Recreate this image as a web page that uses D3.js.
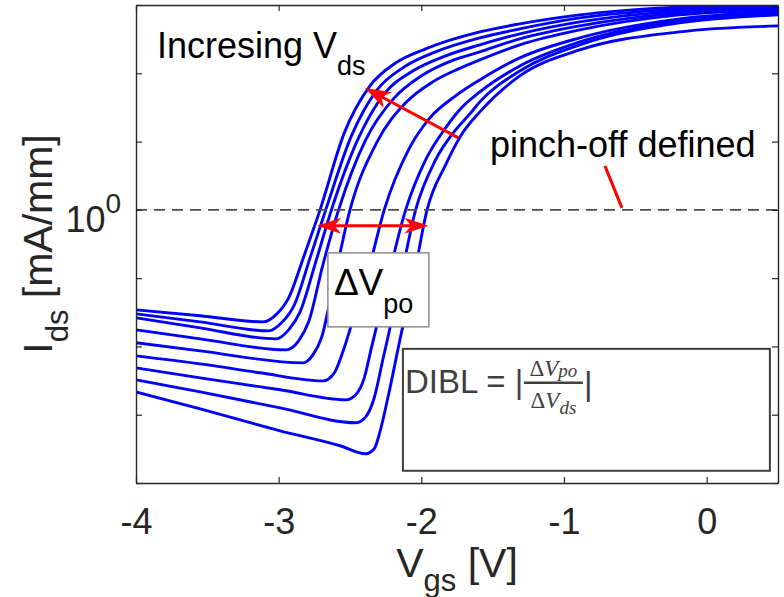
<!DOCTYPE html>
<html>
<head>
<meta charset="utf-8">
<script src="https://cdn.jsdelivr.net/npm/d3@7"></script>
<style>
  html, body { margin: 0; padding: 0; background: #fff; }
  svg { display: block; font-family: "Liberation Sans", Arial, Helvetica, sans-serif; }
</style>
</head>
<body>
<svg id="chart" width="784" height="597"></svg>
<script>
// Transfer curves Ids(Vgs), one per drain bias (leftmost = highest Vds)
const vgsTicks = [-4, -3, -2, -1, 0];
const idsTicks = [1e-4, 1e-3, 1e-2, 1e-1, 1, 1e1, 1e2, 1e3];

const curve1 = [[-4.00,0.0343],[-3.55,0.0281],[-3.11,0.0229],[-3.02,0.0290],[-2.93,0.0515],[-2.82,0.219],[-2.71,1.00],[-2.54,13.4],[-2.36,65.4],[-2.18,142],[-1.97,228],[-1.59,404],[-1.31,529],[-0.89,716],[-0.19,938],[0.50,1038]];
const curve2 = [[-4.00,0.0300],[-3.55,0.0229],[-3.07,0.0169],[-2.98,0.0222],[-2.89,0.0407],[-2.78,0.198],[-2.67,1.00],[-2.49,12.1],[-2.31,57.1],[-2.12,124],[-1.90,206],[-1.59,330],[-1.31,447],[-0.89,647],[-0.19,877],[0.50,987]];
const curve3 = [[-4.00,0.0262],[-3.55,0.0187],[-3.02,0.0129],[-2.93,0.0175],[-2.85,0.0321],[-2.74,0.173],[-2.63,1.00],[-2.44,11.3],[-2.26,49.9],[-2.06,108],[-1.83,180],[-1.59,261],[-1.31,378],[-0.89,566],[-0.19,820],[0.50,938]];
const curve4 = [[-4.00,0.0175],[-3.55,0.0129],[-2.95,0.00891],[-2.86,0.0121],[-2.79,0.0229],[-2.69,0.157],[-2.58,1.00],[-2.39,10.6],[-2.19,43.6],[-2.00,91.6],[-1.79,152],[-1.59,206],[-1.31,319],[-0.89,494],[-0.19,766],[0.50,892]];
const curve5 = [[-4.00,0.0113],[-3.55,0.00862],[-2.83,0.00575],[-2.76,0.00753],[-2.70,0.0134],[-2.61,0.0944],[-2.50,1.00],[-2.31,9.90],[-2.11,36.9],[-1.92,74.8],[-1.74,116],[-1.59,157],[-1.31,261],[-0.89,432],[-0.19,716],[0.50,848]];
const curve6 = [[-4.00,0.00728],[-3.55,0.00556],[-3.13,0.00411],[-2.69,0.00313],[-2.61,0.00411],[-2.55,0.00833],[-2.49,0.0207],[-2.37,0.132],[-2.26,1.00],[-2.09,7.56],[-1.94,22.2],[-1.76,46.7],[-1.59,80.0],[-1.31,168],[-0.89,330],[-0.19,626],[0.50,792]];
const curve7 = [[-4.00,0.00486],[-3.55,0.00347],[-2.99,0.00232],[-2.53,0.00165],[-2.46,0.00196],[-2.40,0.00347],[-2.35,0.00954],[-2.26,0.0569],[-2.11,1.00],[-1.97,5.40],[-1.83,15.9],[-1.72,31.1],[-1.59,53.4],[-1.31,128],[-0.89,288],[-0.19,585],[0.50,754]];
const curve8 = [[-4.00,0.00324],[-3.55,0.00216],[-2.99,0.00126],[-2.46,0.000761],[-2.39,0.000931],[-2.33,0.00177],[-2.27,0.00637],[-2.16,0.0674],[-2.04,1.00],[-1.90,5.40],[-1.76,14.8],[-1.66,25.4],[-1.59,38.1],[-1.31,108],[-0.89,261],[-0.19,547],[0.50,716]];
const curve9 = [[-4.00,0.00216],[-3.55,0.00122],[-2.99,0.000581],[-2.57,0.000351],[-2.39,0.000268],[-2.33,0.000317],[-2.29,0.000562],[-2.23,0.00196],[-2.15,0.0125],[-2.05,0.112],[-1.96,1.00],[-1.83,4.56],[-1.72,12.5],[-1.59,27.2],[-1.31,91.6],[-0.89,220],[-0.19,404],[0.50,494]];
const curves = [curve1, curve2, curve3, curve4, curve5, curve6, curve7, curve8, curve9];

// Pinch-off criterion current level (mA/mm)
const pinchOffLevel = 1;

// Annotation anchors in data units [Vgs, Ids]
const dvArrow = [[-2.73, 0.583], [-1.95, 0.583]];
const vdsArrow = { tail: [-1.74, 11.3], tip: [-2.395, 61.1] };
const pinchPointer = [[-0.713, 4.41], [-0.594, 1.07]];
const incLabelPos = [-3.853, 168];
const pinchLabelPos = [-1.519, 5.97];
const dvBox = { x0: -2.655, x1: -1.947, yTop: 0.2346, yBot: 0.01936 };
const diblBox = { x0: -2.129, x1: 0.443, yTop: 0.00922, yBot: 0.000151 };

const W = 784, H = 597;
const plot = { left: 136, right: 778, top: 5, bottom: 483 };

const svg = d3.select("#chart");
svg.append("rect").attr("width", W).attr("height", H).attr("fill", "#fff");

const x = d3.scaleLinear().domain([-4, 0.5]).range([plot.left, plot.right]);
const y = d3.scaleLog().domain([1e-4, 1e3]).range([plot.bottom, plot.top]);

svg.append("defs").append("clipPath").attr("id", "plotClip")
  .append("rect")
  .attr("x", plot.left).attr("y", plot.top)
  .attr("width", plot.right - plot.left).attr("height", plot.bottom - plot.top);

const body = svg.append("g").attr("clip-path", "url(#plotClip)");

// Transfer curves
const line = d3.line()
  .x(d => x(d[0]))
  .y(d => y(d[1]))
  .curve(d3.curveMonotoneX);

body.selectAll("path.ids")
  .data(curves)
  .join("path")
  .attr("class", "ids")
  .attr("d", line)
  .attr("fill", "none")
  .attr("stroke", "#0000ff")
  .attr("stroke-width", 2.9)
  .attr("stroke-linejoin", "round");

// Pinch-off level
body.append("line")
  .attr("x1", x(-4)).attr("x2", x(0.5))
  .attr("y1", y(pinchOffLevel)).attr("y2", y(pinchOffLevel))
  .attr("stroke", "#4d4d4d")
  .attr("stroke-width", 1.6)
  .attr("stroke-dasharray", "11,7");

// Arrow helpers
const RED = "#ff0000";
function arrowHead(g, tipPx, fromPx, len, halfW) {
  const ang = Math.atan2(tipPx[1] - fromPx[1], tipPx[0] - fromPx[0]);
  const c = Math.cos(ang), s = Math.sin(ang);
  const pt = (u, v) => [tipPx[0] + u * c - v * s, tipPx[1] + u * s + v * c];
  const pts = [pt(0, 0), pt(-len, -halfW), pt(-len * 0.72, 0), pt(-len, halfW)];
  g.append("path")
    .attr("d", "M" + pts.map(p => p.join(",")).join("L") + "Z")
    .attr("fill", RED);
}
function toPx(p) { return [x(p[0]), y(p[1])]; }

const ann = svg.append("g");

// Horizontal double arrow (ΔVpo)
{
  const a = toPx(dvArrow[0]), b = toPx(dvArrow[1]);
  ann.append("line")
    .attr("x1", a[0] + 12).attr("y1", a[1]).attr("x2", b[0] - 12).attr("y2", b[1])
    .attr("stroke", RED).attr("stroke-width", 3);
  arrowHead(ann, a, b, 24, 8);
  arrowHead(ann, b, a, 24, 8);
}

// Diagonal arrow (increasing Vds)
{
  const t = toPx(vdsArrow.tail), h = toPx(vdsArrow.tip);
  const dx = h[0] - t[0], dy = h[1] - t[1], L = Math.hypot(dx, dy);
  ann.append("line")
    .attr("x1", t[0]).attr("y1", t[1])
    .attr("x2", h[0] - dx / L * 14).attr("y2", h[1] - dy / L * 14)
    .attr("stroke", RED).attr("stroke-width", 3);
  arrowHead(ann, h, t, 26, 9);
}

// Pointer to the pinch-off line
{
  const a = toPx(pinchPointer[0]), b = toPx(pinchPointer[1]);
  ann.append("line")
    .attr("x1", a[0]).attr("y1", a[1]).attr("x2", b[0]).attr("y2", b[1])
    .attr("stroke", RED).attr("stroke-width", 3);
}

// Text labels
{
  const p = toPx(incLabelPos);
  const t = ann.append("text").attr("x", p[0]).attr("y", p[1])
    .attr("font-size", 36).attr("fill", "#000");
  t.append("tspan").text("Incresing V");
  t.append("tspan").attr("font-size", 27).attr("dy", 17).text("ds");
}
{
  const p = toPx(pinchLabelPos);
  ann.append("text").attr("x", p[0]).attr("y", p[1])
    .attr("font-size", 36).attr("fill", "#000").text("pinch-off defined");
}

// ΔVpo box
{
  const x0 = x(dvBox.x0), x1 = x(dvBox.x1), y0 = y(dvBox.yTop), y1 = y(dvBox.yBot);
  ann.append("rect").attr("x", x0).attr("y", y0).attr("width", x1 - x0).attr("height", y1 - y0)
    .attr("fill", "#fff").attr("stroke", "#8c8c8c").attr("stroke-width", 1.5);
  const t = ann.append("text").attr("x", x0 + 6).attr("y", y0 + 42)
    .attr("font-size", 37).attr("fill", "#000");
  t.append("tspan").text("\u0394V");
  t.append("tspan").attr("font-size", 27).attr("dy", 18).text("po");
}

// DIBL formula box
{
  const x0 = x(diblBox.x0), x1 = x(diblBox.x1), y0 = y(diblBox.yTop), y1 = y(diblBox.yBot);
  ann.append("rect").attr("x", x0).attr("y", y0).attr("width", x1 - x0).attr("height", y1 - y0)
    .attr("fill", "#fff").attr("stroke", "#404040").attr("stroke-width", 2);
  const gray = "#404040";
  ann.append("text").attr("x", x0 + 2).attr("y", y0 + 44)
    .attr("font-size", 33).attr("fill", gray).text("DIBL = |");
  const fx0 = x0 + 121, fx1 = x0 + 180, fc = (fx0 + fx1) / 2;
  const serif = "'Liberation Serif', 'DejaVu Serif', serif";
  const num = ann.append("text").attr("x", fc).attr("y", y0 + 27)
    .attr("text-anchor", "middle").attr("font-family", serif)
    .attr("font-size", 23).attr("fill", gray);
  num.append("tspan").text("\u0394");
  num.append("tspan").attr("font-style", "italic").text("V");
  num.append("tspan").attr("font-style", "italic").attr("font-size", 19).attr("dy", 1).text("po");
  ann.append("line").attr("x1", fx0).attr("x2", fx1).attr("y1", y0 + 34).attr("y2", y0 + 34)
    .attr("stroke", gray).attr("stroke-width", 2.5);
  const den = ann.append("text").attr("x", fc).attr("y", y0 + 59)
    .attr("text-anchor", "middle").attr("font-family", serif)
    .attr("font-size", 23).attr("fill", gray);
  den.append("tspan").text("\u0394");
  den.append("tspan").attr("font-style", "italic").text("V");
  den.append("tspan").attr("font-style", "italic").attr("font-size", 19).attr("dy", 6).text("ds");
  ann.append("text").attr("x", fx1 + 1).attr("y", y0 + 46)
    .attr("font-size", 33).attr("fill", gray).text("|");
}

// Axes (box with inward ticks on all four sides)
const axisColor = "#262626";
function styleAxis(g) {
  g.select(".domain").attr("stroke", axisColor).attr("stroke-width", 1.4);
  g.selectAll(".tick line").attr("stroke", axisColor).attr("stroke-width", 1.2);
}

const xAxis = svg.append("g").attr("transform", `translate(0,${plot.bottom})`)
  .call(d3.axisBottom(x).tickValues(vgsTicks).tickSize(-6).tickSizeOuter(0)
    .tickFormat(d => String(d)));
styleAxis(xAxis);
xAxis.selectAll(".tick text")
  .attr("y", 51).attr("dy", null)
  .attr("font-size", 36).attr("font-family", "'Liberation Sans', Arial, sans-serif")
  .attr("fill", axisColor);

const xTop = svg.append("g").attr("transform", `translate(0,${plot.top})`)
  .call(d3.axisTop(x).tickValues(vgsTicks).tickSize(-6).tickSizeOuter(0).tickFormat(""));
styleAxis(xTop);

const yAxis = svg.append("g").attr("transform", `translate(${plot.left},0)`)
  .call(d3.axisLeft(y).tickValues(idsTicks).tickSize(-6).tickSizeOuter(0).tickFormat(""));
styleAxis(yAxis);

const yRight = svg.append("g").attr("transform", `translate(${plot.right},0)`)
  .call(d3.axisRight(y).tickValues(idsTicks).tickSize(-6).tickSizeOuter(0).tickFormat(""));
styleAxis(yRight);

// 10^0 tick label
{
  const t = svg.append("text").attr("x", 121).attr("y", y(1) + 22)
    .attr("text-anchor", "end").attr("font-size", 36).attr("fill", axisColor);
  t.append("tspan").text("10");
  t.append("tspan").attr("font-size", 28).attr("dy", -19).text("0");
}

// Axis titles
{
  const t = svg.append("text").attr("x", (plot.left + plot.right) / 2).attr("y", 577)
    .attr("text-anchor", "middle").attr("font-size", 41).attr("fill", axisColor);
  t.append("tspan").text("V");
  t.append("tspan").attr("font-size", 31).attr("dy", 14).text("gs");
  t.append("tspan").attr("dy", -14).text(" [V]");
}
{
  const t = svg.append("text")
    .attr("transform", `translate(52,${(plot.top + plot.bottom) / 2}) rotate(-90)`)
    .attr("text-anchor", "middle").attr("font-size", 41).attr("fill", axisColor);
  t.append("tspan").text("I");
  t.append("tspan").attr("font-size", 31).attr("dy", 16).text("ds");
  t.append("tspan").attr("dy", -16).text(" [mA/mm]");
}
</script>
</body>
</html>
